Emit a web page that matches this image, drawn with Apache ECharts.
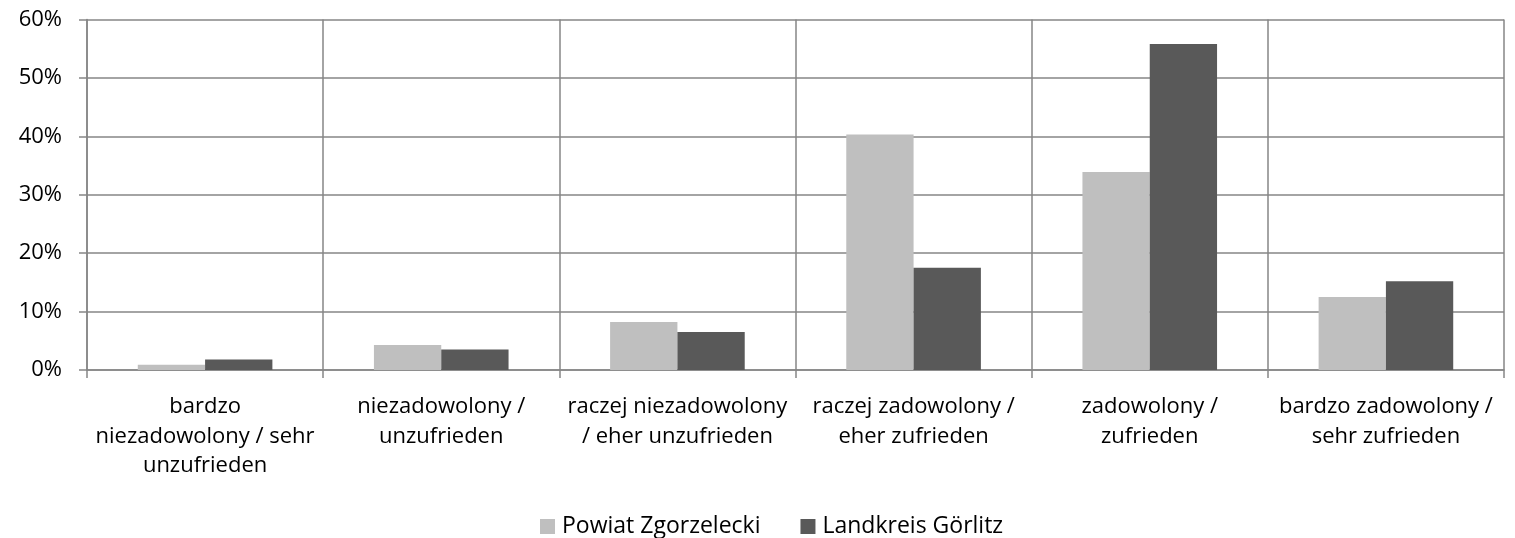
<!DOCTYPE html>
<html>
<head>
<meta charset="utf-8">
<script src="https://cdn.jsdelivr.net/npm/echarts@6/dist/echarts.min.js"></script>
<style>html,body{margin:0;padding:0;background:#fff}#c{width:1515px;height:538px}</style>
</head>
<body>
<div id="c"></div>
<script>
const categories = [
  'bardzo\nniezadowolony / sehr\nunzufrieden',
  'niezadowolony /\nunzufrieden',
  'raczej niezadowolony\n/ eher unzufrieden',
  'raczej zadowolony /\neher zufrieden',
  'zadowolony /\nzufrieden',
  'bardzo zadowolony /\nsehr zufrieden'
];
const seriesNames = ['Powiat Zgorzelecki', 'Landkreis Görlitz'];
const powiat = [0.9, 4.3, 8.2, 40.3, 33.9, 12.5];
const landkreis = [1.8, 3.5, 6.5, 17.5, 55.8, 15.2];
const yTicks = [0, 10, 20, 30, 40, 50, 60];

const font = "'Open Sans', 'Noto Sans', sans-serif";
const gridColor = '#868686';
const chart = echarts.init(document.getElementById('c'));
chart.setOption({
  animation: false,
  textStyle: { fontFamily: font },
  grid: { left: 87, right: 11, top: 19.5, bottom: 168, containLabel: false },
  legend: {
    data: seriesNames,
    top: 510,
    left: 535,
    padding: 5,
    itemWidth: 15,
    itemHeight: 15,
    itemGap: 40,
    icon: 'rect',
    textStyle: { fontFamily: font, fontSize: 23, color: '#000', padding: [0, 0, 0, 2] }
  },
  xAxis: {
    type: 'category',
    data: categories,
    boundaryGap: true,
    axisLine: { show: true, lineStyle: { color: gridColor, width: 1.5 } },
    axisTick: { show: true, length: 8, lineStyle: { color: gridColor, width: 1.5 } },
    splitLine: { show: true, lineStyle: { color: gridColor, width: 1.5 } },
    axisLabel: { fontFamily: font, fontSize: 22, color: '#000', lineHeight: 29.5, margin: 22, interval: 0 }
  },
  yAxis: {
    type: 'value',
    min: yTicks[0],
    max: yTicks[yTicks.length - 1],
    interval: 10,
    axisLine: { show: true, lineStyle: { color: gridColor, width: 1.5 } },
    axisTick: { show: true, length: 8, lineStyle: { color: gridColor, width: 1.5 } },
    splitLine: { show: true, lineStyle: { color: gridColor, width: 1.5 } },
    axisLabel: { fontFamily: font, fontSize: 22, color: '#000', margin: 25, formatter: v => v + '%' }
  },
  series: [
    { name: seriesNames[0], type: 'bar', data: powiat, barGap: '0%', barCategoryGap: '43%', itemStyle: { color: '#BFBFBF' } },
    { name: seriesNames[1], type: 'bar', data: landkreis, barGap: '0%', barCategoryGap: '43%', itemStyle: { color: '#595959' } }
  ]
});
</script>
</body>
</html>
